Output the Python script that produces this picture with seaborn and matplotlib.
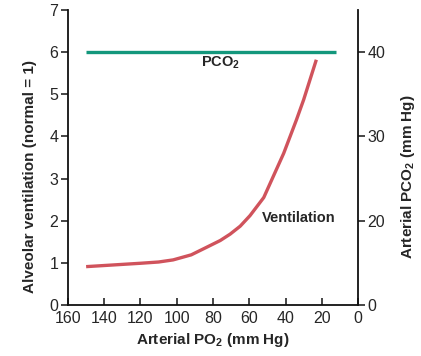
import matplotlib
matplotlib.use("Agg")
import matplotlib.pyplot as plt
import seaborn as sns
import pandas as pd

sns.set_style("white")
plt.rcParams['font.family'] = ['Liberation Sans', 'DejaVu Sans']
plt.rcParams['mathtext.fontset'] = 'custom'
plt.rcParams['mathtext.rm'] = 'Liberation Sans'
plt.rcParams['mathtext.bf'] = 'Liberation Sans:bold'
plt.rcParams['mathtext.it'] = 'Liberation Sans:italic'

# Data
po2_vent = [150, 135, 120, 110, 102, 92, 83.5, 76, 70.6, 65, 59.6, 52, 47.6, 41, 34, 30, 23]
ventilation = [0.91, 0.95, 0.99, 1.02, 1.07, 1.19, 1.37, 1.53, 1.68, 1.87, 2.12, 2.55, 2.97, 3.60, 4.39, 4.87, 5.82]
po2_pco2 = [150, 12]
pco2 = [40, 40]
right_ticks = [10, 20, 30, 40]
right_labels = ['0', '20', '30', '40']

green = '#13977c'
red = '#d0535c'

fig = plt.figure(figsize=(4.21, 3.56), dpi=100)
ax = fig.add_axes([0.1615, 0.1433, 0.6889, 0.8286])
ax2 = ax.twinx()

df_v = pd.DataFrame({'po2': po2_vent, 'v': ventilation})
df_p = pd.DataFrame({'po2': po2_pco2, 'p': pco2})
sns.lineplot(data=df_v, x='po2', y='v', ax=ax, color=red, lw=2.4, sort=False,
             solid_capstyle='butt', solid_joinstyle='round')
sns.lineplot(data=df_p, x='po2', y='p', ax=ax2, color=green, lw=2.4, sort=False, solid_capstyle='butt')

ax.set_xlim(160, 0)
ax.set_ylim(0, 7)
ax2.set_ylim(10, 45)
ax.set_xticks(range(160, -1, -20))
ax.set_yticks(range(0, 8))
ax2.set_yticks(right_ticks)
ax2.set_yticklabels(right_labels)

for a in (ax, ax2):
    a.spines['top'].set_visible(False)
    for s in a.spines.values():
        s.set_linewidth(1.3)
        s.set_color('#111111')
ax.spines['right'].set_visible(False)
ax2.spines['left'].set_visible(False)
ax2.spines['bottom'].set_visible(False)

ax.tick_params(axis='y', direction='out', length=5, width=1.2, labelsize=11.5, pad=2, left=True)
ax.tick_params(axis='x', direction='in', length=5, width=1.2, labelsize=11.5, pad=4, bottom=True)
ax2.tick_params(axis='y', direction='out', length=5, width=1.2, labelsize=11.5, pad=2, right=True)

ax.set_xlabel('Arterial PO$_\\mathbf{2}$ (mm Hg)', fontsize=11, fontweight='bold', labelpad=4)
ax.set_ylabel('Alveolar ventilation (normal = 1)', fontsize=11, fontweight='bold')
ax2.set_ylabel('Arterial PCO$_\\mathbf{2}$ (mm Hg)', fontsize=11, fontweight='bold')
ax.yaxis.set_label_coords(-0.108, 0.434)
ax2.yaxis.set_label_coords(1.14, 0.434)

ax.text(76, 5.75, 'PCO$_\\mathbf{2}$', fontsize=10.5, fontweight='bold', ha='center', va='center')
ax.text(32.5, 2.07, 'Ventilation', fontsize=10.5, fontweight='bold', ha='center', va='center')

fig.savefig('out.png', dpi=100)
